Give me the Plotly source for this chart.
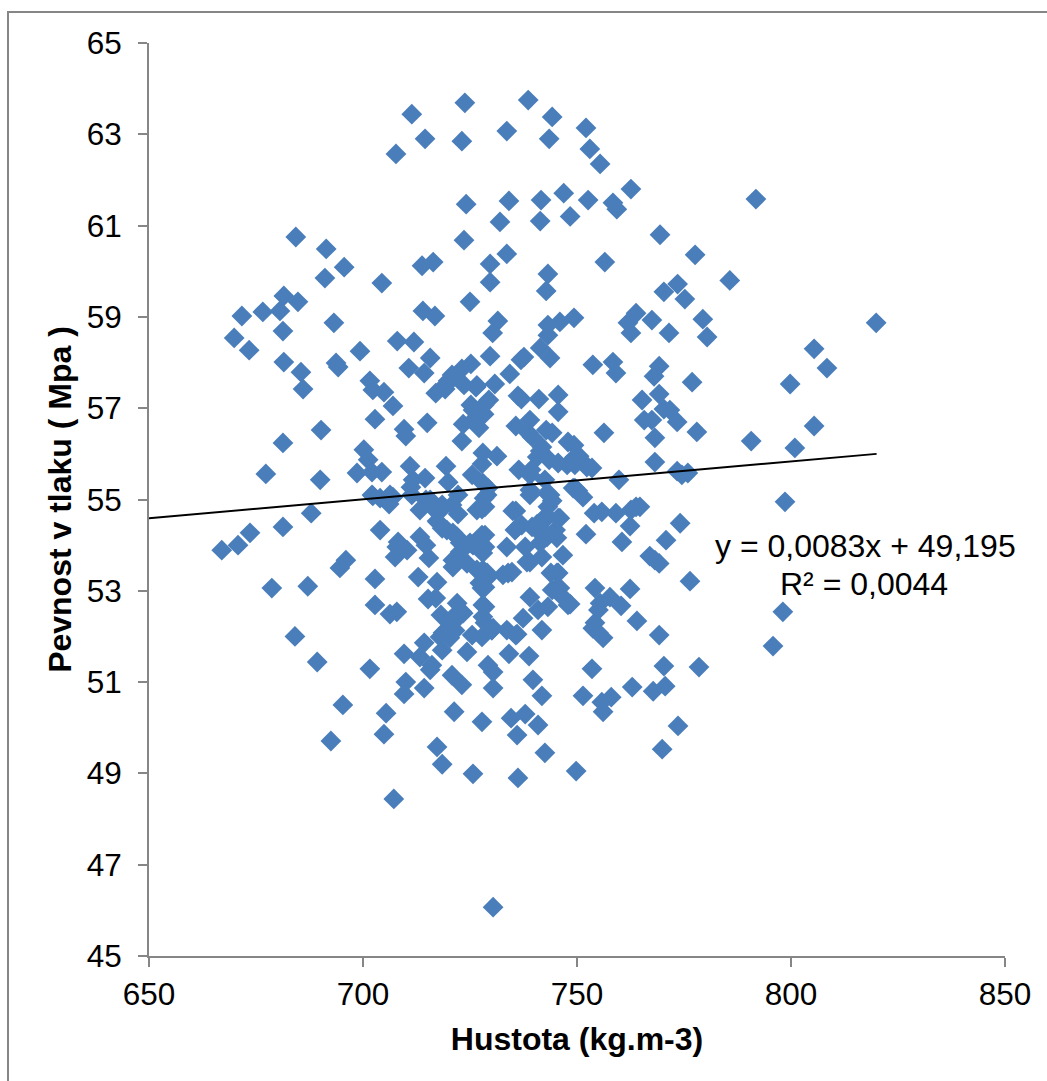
import plotly.graph_objects as go

points = [
(738.6,63.75),(723.8,63.69),(711.4,63.44),(752.1,63.14),(733.6,63.07),(744.2,63.38),(714.5,62.9),(743.5,62.9),(723.1,62.85),(707.7,62.57),(753,62.68),(755.4,62.35),
(762.6,61.8),(746.9,61.71),(791.8,61.58),(734.1,61.54),(741.6,61.56),(752.6,61.56),(724.1,61.47),(758.4,61.5),(759.3,61.36),(748.4,61.2),(741.4,61.1),(732,61.08),
(769.4,60.8),(723.6,60.68),(684.3,60.75),(691.4,60.49),(733.6,60.38),(777.6,60.36),(729.7,60.16),(695.6,60.09),(716.4,60.2),(713.8,60.12),(756.5,60.2),(691.1,59.85),
(743.2,59.94),(729.7,59.76),(785.7,59.8),(704.4,59.74),(773.5,59.72),(742.8,59.57),(770.3,59.55),(775.2,59.39),(681.5,59.46),(684.8,59.33),(725,59.33),(714,59.13),
(680.6,59.13),(676.6,59.11),(671.7,59.02),(716.8,59.02),(749.3,58.98),(763.8,59.08),(767.5,58.93),(779.4,58.95),(731.5,58.91),(693.2,58.87),(746,58.89),(743.2,58.82),
(761.9,58.87),(819.9,58.87),(762.6,58.65),(730.3,58.65),(771.5,58.65),(681.3,58.69),(743.2,58.6),(780.4,58.56),(669.9,58.54),(708,58.47),(711.9,58.45),(741.4,58.32),
(673.4,58.27),(805.4,58.3),(699.3,58.25),(729.7,58.14),(737.6,58.12),(736.9,58.06),(743.7,58.1),(715.7,58.1),(681.5,58.01),(758.4,58.01),(693.7,57.99),(753.7,57.95),
(694.2,57.9),(808.4,57.88),(769.2,57.92),(725.2,57.97),(710.7,57.88),(723.1,57.86),(759.1,57.77),(685.5,57.79),(714.3,57.77),(734.3,57.75),(720.8,57.73),(768,57.7),
(701.6,57.6),(719.9,57.6),(776.9,57.57),(730.8,57.53),(726.6,57.5),(799.8,57.53),(686,57.42),(702.3,57.4),(704.9,57.35),(718.9,57.48),(717,57.33),(769.2,57.31),
(765.2,57.18),(736.2,57.27),(737,57.2),(745.6,57.29),(741.1,57.2),(729.4,57.18),(728.3,57.07),(707,57.05),(725.2,57.07),(770.3,56.98),(771.7,56.96),(745.6,56.92),
(728.3,56.87),(726.2,56.78),(702.8,56.76),(765.7,56.74),(739,56.74),(767.5,56.74),(773.4,56.7),(715,56.68),(805.4,56.61),(723.4,56.65),(735.7,56.61),(727.1,56.57),
(690.2,56.52),(709.6,56.54),(742.8,56.52),(756.3,56.46),(744.2,56.46),(778,56.48),(738.6,56.46),(768.2,56.35),(710,56.39),(723.1,56.28),(790.7,56.28),(681.3,56.24),
(747.9,56.26),(749.3,56.19),(800.9,56.13),(741.8,56.15),(700.2,56.09),(741.4,56.06),(728,56.02),(731.3,55.95),(740.7,55.93),(701.2,55.87),(749.5,55.93),(743.5,55.87),
(727.8,55.78),(751.4,55.82),(768.2,55.82),(745.6,55.8),(747.7,55.76),(749.5,55.76),(753.5,55.69),(711,55.73),(719.4,55.73),(739.3,55.65),(736.4,55.65),(702.1,55.6),
(704.4,55.6),(698.6,55.58),(677.3,55.56),(725.5,55.54),(773.4,55.62),(774.5,55.54),(775.9,55.58),(714.5,55.47),(711.7,55.43),(690,55.43),(759.8,55.43),(719.9,55.38),
(711.2,55.27),(729.2,55.25),(749.1,55.25),(739,55.21),(750.2,55.19),(743,55.14),(702.1,55.1),(707,55.05),(728.3,55.03),(704,55.03),(714.7,54.99),(744.2,54.97),
(706.1,54.9),(720.8,54.88),(763.8,54.84),(716.1,54.84),(727.8,54.79),(718.2,54.77),(713.3,54.77),(735.7,54.75),(754,54.7),(755.8,54.73),(759.1,54.7),(722.2,54.68),
(687.9,54.7),(762.6,54.77),(774.1,54.48),(743.2,54.62),(746,54.59),(717.3,54.53),(762.4,54.42),(737.1,54.44),(735.7,54.35),(718.5,54.37),(681.3,54.4),(704,54.33),
(745,54.33),(752.1,54.24),(673.6,54.27),(667,53.89),(670.8,54.0),(687.1,53.1),(678.7,53.06),(684.1,52.0),(689.3,51.44),(701.6,51.29),(695.3,50.5),(705.4,50.32),
(696,53.67),(694.6,53.5),(702.8,53.26),(702.8,52.69),(706.3,52.49),(707.9,52.54),(708.2,54.07),(707.9,53.96),(710.3,53.89),(707.5,53.74),(713.3,54.18),(714.7,54.0),
(715.4,53.72),(712.9,53.3),(717.3,53.19),(715.2,52.82),(717,52.84),(718.2,52.47),(722,52.73),(723.1,52.54),(721,52.42),(719.9,52.18),(721.5,52.13),(718,51.99),
(720.3,51.97),(718.5,51.7),(714.3,51.86),(725.5,52.03),(727.8,51.99),(724.3,51.66),(709.6,51.62),(713.3,51.55),(716.1,51.37),(715.7,51.27),(729.2,51.37),(730.4,51.22),
(720.8,51.15),(723.1,50.94),(730.4,50.87),(710,51.0),(709.6,50.74),(714.3,50.87),(721.3,50.35),(727.8,50.13),(734.6,50.21),(737.9,50.3),(736,49.84),(740.9,50.06),
(704.9,49.86),(692.5,49.71),(717.3,49.58),(718.5,49.2),(725.7,48.99),(736.2,48.9),(742.5,49.45),(749.8,49.05),(769.9,49.53),(773.6,50.04),(707.2,48.44),(730.4,46.07),
(795.8,51.79),(798.1,52.54),(798.6,54.95),(760.5,54.07),(770.8,54.11),(767,53.76),(768.2,53.67),(769.2,53.6),(776.4,53.21),(762.4,53.04),(754.2,53.06),(757.7,52.86),
(760.3,52.67),(764,52.34),(769.2,52.03),(753.7,52.18),(756.1,51.97),(755,52.08),(754.2,52.3),(755.4,52.73),(755,52.58),(753.5,51.29),(770.3,51.35),(778.5,51.33),
(770.6,50.91),(767.8,50.8),(762.9,50.89),(758,50.67),(755.8,50.56),(756.1,50.35),(751.4,50.7),(741.8,50.7),(739.7,51.05),(738.8,51.57),(734.1,51.62),(741.8,52.14),
(736,52.05),(733.6,52.14),(730.1,52.14),(737.4,52.4),(739,52.86),(740.9,52.58),(743.2,52.65),(744.2,53.02),(745.6,53.08),(748.4,52.71),(746.7,52.86),(743.9,53.39),
(745.6,53.39),(733.9,53.39),(732.7,53.35),(739,53.63),(741.8,53.74),(746.7,53.78),(737.9,53.96),(733.6,53.96),(735.5,54.33),(735,54.75),(740.7,54.33),(743,54.18),
(745.3,54.16),(745.6,54.59),(743.2,54.84),(741.8,54.55),(739.5,54.4),(741.4,54.05),(743.7,55.1),(749.5,55.25),(751.4,55.05),(739,55.1),(764.7,54.84),(739.5,56.37),
(752.3,55.71),(739,55.54),(742.5,55.43),(728,55.36),(728.5,54.22),(728.5,53.96),(728,53.46),(729,53.3),(728.5,53.08),(728.5,52.65),(728.5,52.3),(721,54.27),
(722.7,54.05),(727.8,54.22),(725.7,54.0),(728,53.83),(721,53.67),(724.3,53.6),(726.6,53.46),(729,53.28),(727.8,53.06),(728,52.69),(730.4,52.18),(722.7,53.85),
(717.5,54.5),(719.6,54.33),(718.5,54.88),(715.7,54.99),(726.6,54.77),(728.5,54.84),(729,55.1),(722.2,55.1),(711.4,55.1),(706.3,55.1),(702.3,55.08),(750.5,55.95),
(719.2,57.42),(723.6,57.51),(726.4,57.46),(725.7,56.96),(721,57.66),(740.7,54.46),(742.5,54.27),(738.3,53.63),(722,54.18),(725,54.05),(721,53.52),(729,53.39),
(727.3,53.17),(734.8,53.41),(745.3,53.39),(746,53.06),(747.9,52.69),(723.4,52.51),(721,52.3),(718.7,52.08),(728,52.43),(730.1,52.14),(735.7,52.03),
]
density = [p[0] for p in points]
strength = [p[1] for p in points]

trend_x = [650, 820]
trend_y = [54.59, 56.0]

x_ticks = [650, 700, 750, 800, 850]
y_ticks = [45, 47, 49, 51, 53, 55, 57, 59, 61, 63, 65]

W, H = 1047, 1081
L, R, T, B = 149, 1005, 43, 956
GREY = "#868686"
FONT = "Liberation Sans"

fig = go.Figure()
fig.add_trace(go.Scatter(x=density, y=strength, mode="markers",
    marker=dict(symbol="diamond", size=16, color="#4a7ebb", line=dict(width=0)),
    hoverinfo="skip", showlegend=False, cliponaxis=False))
fig.add_trace(go.Scatter(x=trend_x, y=trend_y, mode="lines",
    line=dict(color="black", width=1.9), hoverinfo="skip", showlegend=False))

axis_common = dict(showgrid=False, zeroline=False, showline=True, linecolor=GREY, linewidth=2,
    ticks="outside", ticklen=9, tickcolor=GREY, tickwidth=2,
    tickfont=dict(family=FONT, size=31.5, color="black"))
fig.update_xaxes(range=[650, 850], tickvals=x_ticks, ticktext=[str(v) for v in x_ticks], ticklabelstandoff=0,
    title=dict(text="<b>Hustota (kg.m-3)</b>", font=dict(family=FONT, size=32, color="black"), standoff=17), **axis_common)
fig.update_yaxes(range=[45, 65], tickvals=y_ticks, ticktext=[str(v) for v in y_ticks], ticklabelstandoff=10,
    title=dict(text="<b>Pevnost v tlaku ( Mpa )</b>", font=dict(family=FONT, size=32, color="black"), standoff=5), **axis_common)

def px(v):
    return (v - L) / (R - L)
def py(v):
    return (B - v) / (B - T)

fig.add_annotation(x=px(865), y=py(546), xref="paper", yref="paper", xanchor="center", yanchor="middle",
    text="y = 0,0083x + 49,195", showarrow=False, font=dict(family=FONT, size=32, color="black"))
fig.add_annotation(x=px(864), y=py(584), xref="paper", yref="paper", xanchor="center", yanchor="middle",
    text="R² = 0,0044", showarrow=False, font=dict(family=FONT, size=32, color="black"))

fig.add_shape(type="rect", xref="paper", yref="paper",
    x0=px(8), x1=px(1060), y0=py(1095), y1=py(12),
    line=dict(color=GREY, width=2), fillcolor="rgba(0,0,0,0)", layer="below")

fig.update_layout(width=W, height=H, autosize=False, margin=dict(l=L, r=W-R, t=T, b=H-B),
    paper_bgcolor="white", plot_bgcolor="white")

fig.write_html("out.html", config={"displayModeBar": False},
    post_script="document.body.style.margin='0';document.body.style.overflow='hidden';")
